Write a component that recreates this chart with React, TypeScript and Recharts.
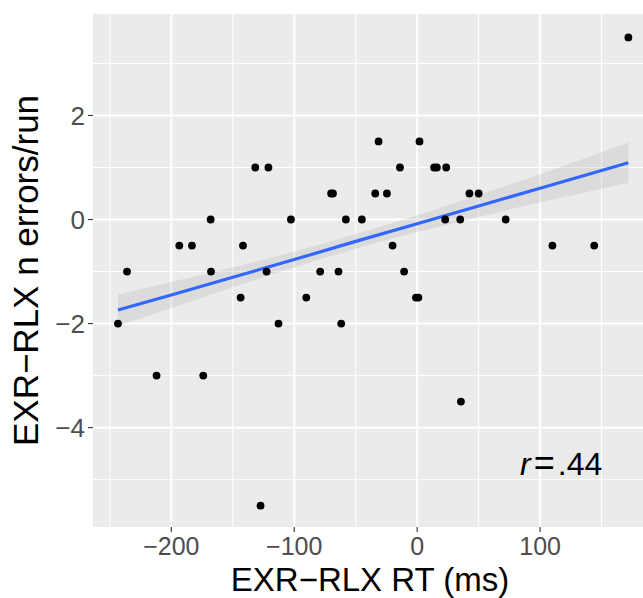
import React from 'react';
import {
    ComposedChart,
    Scatter,
    Line,
    Area,
    XAxis,
    YAxis,
    CartesianGrid,
    ReferenceDot,
} from 'recharts';

// RT difference (ms) and error difference per participant
const rtDiff = [
    -243.4, -236, -212, -193.5, -183.2, -174, -168, -167.7, -143.6, -141.7,
    -131.7, -127.4, -122.5, -121, -112.8, -102.7, -90.2, -78.9, -70, -68.5,
    -64, -61.8, -58, -45, -34.1, -31.4, -24.6, -20, -14, -10.6,
    -1, 1, 1.9, 13.8, 16, 22.8, 23.6, 35, 35.6, 42.5,
    50, 72, 110, 144, 171.8,
];
const errDiff = [
    -2, -1, -3, -0.5, -0.5, -3, 0, -1, -1.5, -0.5,
    1, -5.5, -1, 1, -2, 0, -1.5, -1, 0.5, 0.5,
    -1, -2, 0, 0, 0.5, 1.5, 0.5, -0.5, 1, -1,
    -1.5, -1.5, 1.5, 1, 1, 0, 1, 0, -3.5, 0.5,
    0.5, 0, -0.5, -0.5, 3.5,
];

// lm fit + 95% band
const fitX = [-243.4, -200, -150, -100, -50, 0, 50, 100, 171.8];
const fitY = [-1.74, -1.45, -1.11, -0.77, -0.42, -0.08, 0.26, 0.6, 1.09];
const fitLo = [-2.04, -1.7, -1.3, -0.92, -0.56, -0.24, 0.05, 0.33, 0.7];
const fitHi = [-1.44, -1.2, -0.92, -0.62, -0.28, 0.08, 0.47, 0.87, 1.48];

const xTicks = [-200, -100, 0, 100];
const yTicks = [-4, -2, 0, 2];
const xMinor = [-250, -150, -50, 50, 150];
const yMinor = [-5, -3, -1, 1, 3];

const points = rtDiff.map((x, i) => ({x, y: errDiff[i]}));
const fit = fitX.map((x, i) => ({x, fit: fitY[i], lo: fitLo[i], hi: fitHi[i]}));

const FONT = '"Liberation Sans", Arial, Helvetica, sans-serif';
const minus = (v) => String(v).replace('-', '\u2212');

const Dot = (props) => <circle cx={props.cx} cy={props.cy} r={3.9} fill="#000" />;

const App = () => {
    return (
        <div style={{position: 'absolute', left: 0, top: 0, fontFamily: FONT}}>
            <ComposedChart width={643} height={598} data={fit}
                           margin={{top: 14, right: 0, bottom: 0, left: 0}}>
                <CartesianGrid fill="#EBEBEB" fillOpacity={1} stroke="#FFFFFF" strokeWidth={1}
                               horizontalValues={yMinor} verticalValues={xMinor} />
                <CartesianGrid stroke="#FFFFFF" strokeWidth={2}
                               horizontalValues={yTicks} verticalValues={xTicks} />
                <XAxis type="number" dataKey="x" domain={[-263.7, 183.7]} ticks={xTicks}
                       allowDataOverflow height={71} axisLine={false}
                       tickSize={5} tickMargin={5} tickFormatter={minus}
                       tickLine={{stroke: '#333333', strokeWidth: 1.1}}
                       tick={{fill: '#4D4D4D', fontSize: 25, fontFamily: FONT}}
                       label={{
                           content: () => (
                               <text x={370} y={591} textAnchor="middle" fontSize={33}
                                     fontFamily={FONT} fill="#000">EXR{'\u2212'}RLX RT (ms)</text>
                           ),
                       }} />
                <YAxis type="number" dataKey="y" domain={[-5.91, 3.95]} ticks={yTicks}
                       allowDataOverflow width={93} axisLine={false}
                       tickSize={5} tickMargin={3} tickFormatter={minus}
                       tickLine={{stroke: '#333333', strokeWidth: 1.1}}
                       tick={{fill: '#4D4D4D', fontSize: 26, fontFamily: FONT}}
                       label={{
                           content: () => (
                               <text x={38} y={270.5} transform="rotate(-90 38 270.5)"
                                     textAnchor="middle" fontSize={35} fontFamily={FONT}
                                     fill="#000">EXR{'\u2212'}RLX n errors/run</text>
                           ),
                       }} />
                <Area type="monotone" dataKey={(d) => [d.lo, d.hi]} stroke="none"
                      fill="#999999" fillOpacity={0.2} isAnimationActive={false} />
                <Scatter data={points} dataKey="y" shape={Dot} isAnimationActive={false} />
                <Line type="linear" dataKey="fit" stroke="#3366FF" strokeWidth={3.2}
                      dot={false} activeDot={false} isAnimationActive={false} />
                <ReferenceDot x={83.7} y={-4.92} r={1} ifOverflow="visible"
                              shape={(p) => (
                                  <text x={p.cx} y={p.cy} fontSize={32} fontFamily={FONT} fill="#000">
                                      <tspan fontStyle="italic">r</tspan>
                                      <tspan dx={3} fontSize={36}>=</tspan>
                                      <tspan dx={3}>.44</tspan>
                                  </text>
                              )} />
            </ComposedChart>
        </div>
    );
};

export default App;
